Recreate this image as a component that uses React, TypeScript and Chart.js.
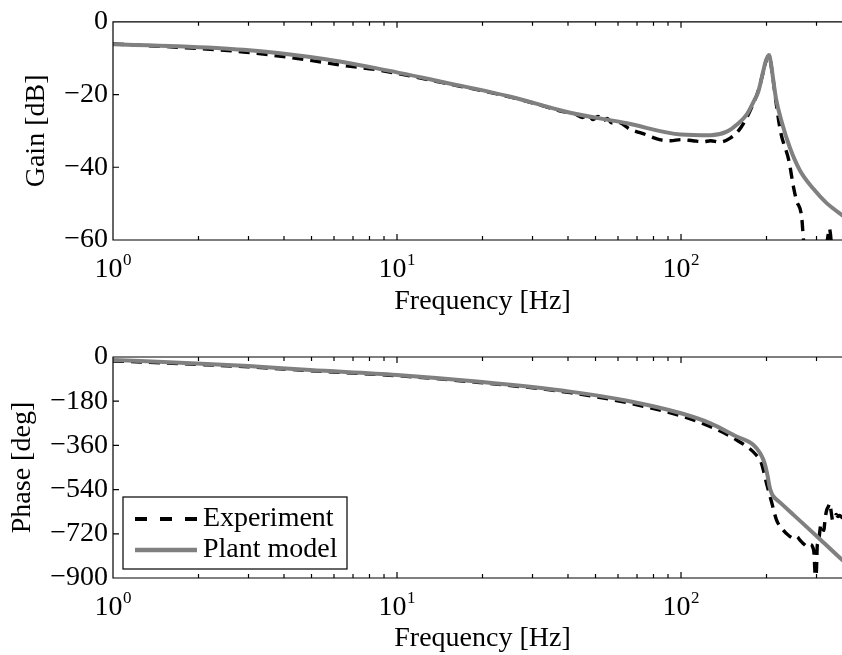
import React, { useEffect, useRef } from "react";
import { Chart, registerables } from "chart.js";

Chart.register(...registerables);

const FONT_FAMILY = '"Liberation Serif", "Times New Roman", Times, serif';
const FONT_SIZE = 28;
const EXP_FONT_SIZE = 17;

// ---- axis definitions ----
const freqMin = 1;
const freqMax = 400;
const gainTickValues = [0, -20, -40, -60];
const phaseTickValues = [0, -180, -360, -540, -720, -900];
const seriesLabels = ["Experiment", "Plant model"];
const xTitle = "Frequency [Hz]";
const gainTitle = "Gain [dB]";
const phaseTitle = "Phase [deg]";

// ---- Gain: experiment ----
const gainExpFreq = [1, 1.68, 2.88, 4.95, 6.45, 8.5, 14.6, 25.1, 32, 38, 42, 45, 47, 49, 51, 53, 55, 57, 60, 66, 75, 84, 92, 100, 110, 120, 127, 137, 149, 160, 170, 180, 187, 195, 199, 204, 207, 211, 216, 224, 240, 249, 255, 266, 270, 280, 300, 320, 329, 333, 336, 340, 360, 400];
const gainExpDb = [-6.1, -7.0, -8.3, -10.6, -12.0, -13.2, -16.8, -20.7, -22.9, -24.6, -25.2, -26.3, -25.6, -26.9, -26.0, -27.3, -26.6, -27.8, -27.6, -29.5, -31.0, -32.4, -32.7, -32.4, -32.7, -33.0, -32.7, -33.1, -32.0, -29.8, -26.5, -22.3, -19.0, -13.6, -10.9, -9.2, -11.3, -15.8, -22.0, -30.1, -38.3, -45.5, -49.1, -53.7, -60.0, -68, -72, -66, -59, -56.8, -58.5, -63, -70, -72];

// ---- Gain: plant model ----
const gainModelFreq = [1, 1.68, 2.88, 4.95, 8.5, 14.6, 25.1, 40.7, 64.5, 100, 127, 145, 157, 170, 180, 187, 195, 199, 204, 207, 211, 216, 226, 242, 262, 293, 325, 370, 400];
const gainModelDb = [-6.2, -6.7, -7.7, -9.7, -12.8, -16.6, -20.6, -25.0, -27.9, -31.0, -31.2, -30.2, -28.3, -25.6, -22.0, -19.3, -13.4, -10.7, -9.1, -11.1, -15.7, -21.1, -27.4, -34.7, -40.8, -46.0, -49.8, -53.2, -55.0];

// ---- Phase: experiment ----
const phaseExpFreq = [1, 1.97, 3.0, 4.95, 10, 19.1, 40.7, 64.5, 100, 127, 157, 184, 192, 200, 209, 217, 229, 240, 249, 256, 262, 269, 279, 286, 291, 294, 296, 298, 300, 302, 305, 308, 311, 315, 318, 322, 326, 330, 334, 338, 342, 347, 352, 357, 362, 370, 380, 400];
const phaseExpDeg = [-16, -30, -40, -56, -76, -103, -145, -186, -240, -284, -338, -399, -433, -514, -596, -664, -705, -728, -738, -732, -745, -759, -772, -763, -775, -800, -870, -930, -860, -765, -755, -712, -680, -700, -706, -655, -622, -610, -596, -632, -665, -660, -641, -650, -645, -655, -648, -660];

// ---- Phase: plant model ----
const phaseModelFreq = [1, 1.97, 3.0, 4.95, 10, 19.1, 40.7, 64.5, 100, 127, 157, 180, 190, 197, 202, 205, 208, 211, 224, 249, 310, 370, 400];
const phaseModelDeg = [-12, -26, -37, -53, -73, -100, -141, -178, -229, -270, -324, -358, -392, -433, -487, -528, -552, -566, -594, -643, -744, -827, -862];

const isDecade = (v: number) => Math.abs(Math.log10(v) - Math.round(Math.log10(v))) < 1e-6;

function logTicks(min: number, max: number) {
  const out: { value: number }[] = [];
  for (let e = Math.floor(Math.log10(min)); e <= Math.ceil(Math.log10(max)); e++) {
    for (let m = 1; m <= 9; m++) {
      const v = m * Math.pow(10, e);
      if (v >= min - 1e-9 && v <= max + 1e-9) out.push({ value: v });
    }
  }
  return out;
}

const fmtY = (v: number) => (v === 0 ? "0" : "\u2212" + Math.abs(v));

const framePlugin = {
  id: "frame",
  afterDraw(chart: any) {
    const { ctx } = chart;
    const { left, top, right, bottom } = chart.chartArea;
    const xs = chart.scales.x;
    const ys = chart.scales.y;
    ctx.save();
    ctx.strokeStyle = "#000";
    ctx.lineWidth = 1.2;
    ctx.setLineDash([]);
    ctx.beginPath();
    ctx.rect(left, top, right - left, bottom - top);
    for (const t of xs.ticks) {
      const p = xs.getPixelForValue(t.value);
      const len = isDecade(t.value) ? 6 : 4;
      ctx.moveTo(p, bottom);
      ctx.lineTo(p, bottom - len);
      ctx.moveTo(p, top);
      ctx.lineTo(p, top + len);
    }
    for (const t of ys.ticks) {
      const p = ys.getPixelForValue(t.value);
      ctx.moveTo(left, p);
      ctx.lineTo(left + 6, p);
      ctx.moveTo(right, p);
      ctx.lineTo(right - 6, p);
    }
    ctx.stroke();
    // superscript exponents of decade labels
    const labelOffset = xs.options.ticks.labelOffset || 0;
    ctx.font = `${FONT_SIZE}px ${FONT_FAMILY}`;
    const baseW = ctx.measureText("10").width;
    ctx.font = `${EXP_FONT_SIZE}px ${FONT_FAMILY}`;
    ctx.fillStyle = "#000";
    ctx.textAlign = "left";
    ctx.textBaseline = "alphabetic";
    for (const t of xs.ticks) {
      if (!isDecade(t.value)) continue;
      const p = xs.getPixelForValue(t.value);
      const exp = String(Math.round(Math.log10(t.value)));
      ctx.fillText(exp, p + labelOffset + baseW / 2 + 0.5, bottom + 24.5);
    }
    ctx.restore();
  },
};

const legendPlugin = {
  id: "boxLegend",
  afterDraw(chart: any) {
    const { ctx } = chart;
    const ca = chart.chartArea;
    const x0 = ca.left + 10;
    const y0 = ca.bottom - 81;
    const w = 224;
    const h = 72;
    ctx.save();
    ctx.fillStyle = "#fff";
    ctx.fillRect(x0, y0, w, h);
    ctx.strokeStyle = "#000";
    ctx.lineWidth = 1.2;
    ctx.setLineDash([]);
    ctx.strokeRect(x0, y0, w, h);
    const rows = [y0 + 22, y0 + 53];
    chart.data.datasets.forEach((ds: any, i: number) => {
      const y = rows[i];
      ctx.beginPath();
      ctx.strokeStyle = ds.borderColor;
      ctx.lineWidth = i === 0 ? 3.8 : 4.5;
      ctx.setLineDash(i === 0 ? [12, 13] : []);
      ctx.moveTo(x0 + 12, y);
      ctx.lineTo(x0 + 74, y);
      ctx.stroke();
      ctx.setLineDash([]);
      ctx.fillStyle = "#000";
      ctx.font = `${FONT_SIZE}px ${FONT_FAMILY}`;
      ctx.textAlign = "left";
      ctx.textBaseline = "middle";
      ctx.fillText(ds.label, x0 + 80, y);
    });
    ctx.restore();
  },
};

interface Cfg {
  expX: number[];
  expY: number[];
  modX: number[];
  modY: number[];
  yMin: number;
  yMax: number;
  yTicks: number[];
  yTitle: string;
  padTop: number;
  xAxisHeight: number;
  xTitlePadBottom: number;
  yTitlePadTop: number;
  withLegend: boolean;
}

function makeConfig(c: Cfg): any {
  const font = { family: FONT_FAMILY, size: FONT_SIZE };
  return {
    type: "line",
    data: {
      datasets: [
        {
          label: seriesLabels[0],
          data: c.expX.map((x, i) => ({ x, y: c.expY[i] })),
          borderColor: "#000000",
          borderWidth: 3.4,
          borderDash: [11, 7],
          pointRadius: 0,
          fill: false,
          cubicInterpolationMode: "monotone",
          order: 1,
        },
        {
          label: seriesLabels[1],
          data: c.modX.map((x, i) => ({ x, y: c.modY[i] })),
          borderColor: "#808080",
          borderWidth: 4,
          pointRadius: 0,
          fill: false,
          cubicInterpolationMode: "monotone",
          order: 0,
        },
      ],
    },
    options: {
      responsive: false,
      maintainAspectRatio: false,
      animation: false,
      devicePixelRatio: 1,
      layout: { padding: { top: c.padTop, left: 0, right: 0, bottom: 0 } },
      plugins: { legend: { display: false }, tooltip: { enabled: false } },
      scales: {
        x: {
          type: "logarithmic",
          min: freqMin,
          max: freqMax,
          grid: { display: false, drawTicks: false },
          border: { display: false },
          afterBuildTicks: (s: any) => {
            s.ticks = logTicks(freqMin, freqMax);
          },
          afterFit: (s: any) => {
            s.height = c.xAxisHeight;
          },
          ticks: {
            autoSkip: false,
            maxRotation: 0,
            minRotation: 0,
            padding: 13,
            labelOffset: -4.5,
            color: "#000",
            font,
            callback: (v: any) => (isDecade(Number(v)) ? "10" : ""),
          },
          title: {
            display: true,
            text: xTitle,
            color: "#000",
            font,
            padding: { top: 0, bottom: c.xTitlePadBottom },
          },
        },
        y: {
          type: "linear",
          min: c.yMin,
          max: c.yMax,
          grid: { display: false, drawTicks: false },
          border: { display: false },
          afterBuildTicks: (s: any) => {
            s.ticks = c.yTicks.map((v) => ({ value: v }));
          },
          afterFit: (s: any) => {
            s.width = 113;
          },
          ticks: {
            padding: 5,
            color: "#000",
            font,
            callback: (v: any) => fmtY(Number(v)),
          },
          title: {
            display: true,
            text: c.yTitle,
            color: "#000",
            font,
            padding: { top: c.yTitlePadTop, bottom: 0 },
          },
        },
      },
    },
    plugins: c.withLegend ? [framePlugin, legendPlugin] : [framePlugin],
  };
}

const CANVAS_W = 865;

export default function App() {
  const topRef = useRef<HTMLCanvasElement>(null);
  const botRef = useRef<HTMLCanvasElement>(null);

  useEffect(() => {
    const c1 = new Chart(
      topRef.current as HTMLCanvasElement,
      makeConfig({
        expX: gainExpFreq,
        expY: gainExpDb,
        modX: gainModelFreq,
        modY: gainModelDb,
        yMin: -60,
        yMax: 0,
        yTicks: gainTickValues,
        yTitle: gainTitle,
        padTop: 19,
        xAxisHeight: 87,
        xTitlePadBottom: 9,
        yTitlePadTop: 20,
        withLegend: false,
      })
    );
    const c2 = new Chart(
      botRef.current as HTMLCanvasElement,
      makeConfig({
        expX: phaseExpFreq,
        expY: phaseExpDeg,
        modX: phaseModelFreq,
        modY: phaseModelDeg,
        yMin: -900,
        yMax: 0,
        yTicks: phaseTickValues,
        yTitle: phaseTitle,
        padTop: 30,
        xAxisHeight: 77,
        xTitlePadBottom: 0,
        yTitlePadTop: 6,
        withLegend: true,
      })
    );
    return () => {
      c1.destroy();
      c2.destroy();
    };
  }, []);

  return (
    <div
      style={{
        position: "fixed",
        left: 0,
        top: 0,
        width: 842,
        height: 655,
        overflow: "hidden",
        background: "#fff",
      }}
    >
      <canvas
        ref={topRef}
        width={CANVAS_W}
        height={327}
        style={{ position: "absolute", left: 0, top: 0, width: CANVAS_W, height: 327 }}
      />
      <canvas
        ref={botRef}
        width={CANVAS_W}
        height={328}
        style={{ position: "absolute", left: 0, top: 327, width: CANVAS_W, height: 328 }}
      />
    </div>
  );
}
